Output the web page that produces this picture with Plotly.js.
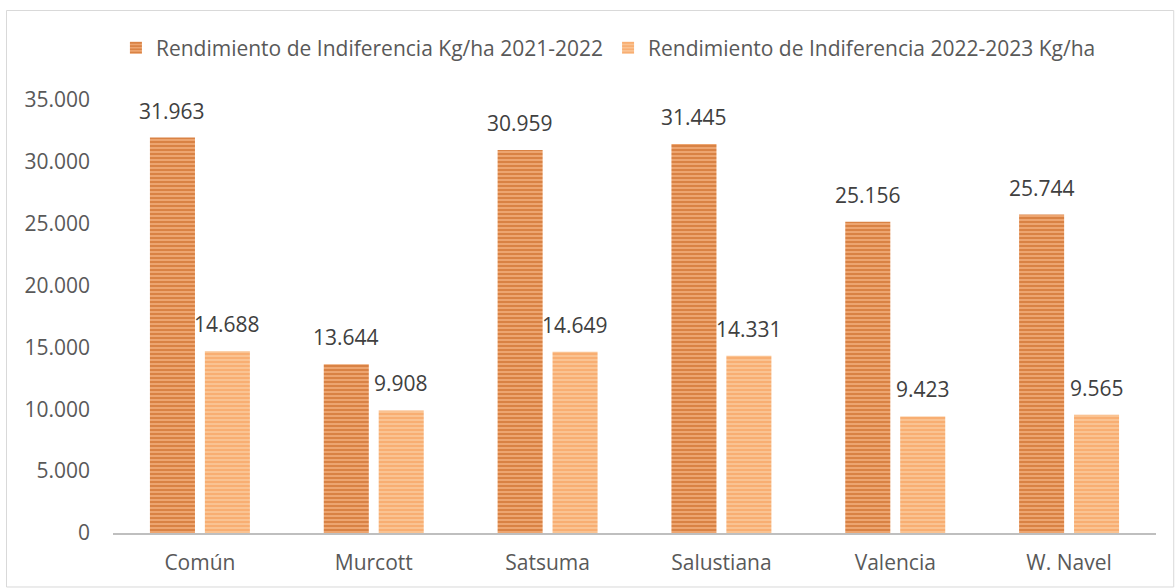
<!DOCTYPE html>
<html>
<head>
<meta charset="utf-8">
<script src="https://cdn.plot.ly/plotly-3.0.1.min.js"></script>
<style>
html,body{margin:0;padding:0;background:#fff;}
#chart{width:1175px;height:588px;}
</style>
</head>
<body>
<div id="chart"></div>
<script>
const categories = ["Común", "Murcott", "Satsuma", "Salustiana", "Valencia", "W. Navel"];
const series1Name = "Rendimiento de Indiferencia Kg/ha 2021-2022";
const series2Name = "Rendimiento de Indiferencia 2022-2023 Kg/ha";
const series1 = [31963, 13644, 30959, 31445, 25156, 25744];
const series2 = [14688, 9908, 14649, 14331, 9423, 9565];
const yTicks = [0, 5000, 10000, 15000, 20000, 25000, 30000, 35000];

const font = "'Open Sans', 'Liberation Sans', sans-serif";
const FS = 21;

function fmt(v) {
  return String(v).replace(/\B(?=(\d{3})+(?!\d))/g, ".");
}

const traces = [
  {
    type: "bar", name: series1Name, x: categories, y: series1,
    marker: {color: "#f2ae7a", line: {width: 0},
      pattern: {shape: "-", fgcolor: "#c0560e", bgcolor: "#f2ae7a", size: 4, solidity: 0.6, fillmode: "overlay"}},
    textposition: "none",
    hoverinfo: "skip"
  },
  {
    type: "bar", name: series2Name, x: categories, y: series2,
    marker: {color: "#fbc89a", line: {width: 0},
      pattern: {shape: "-", fgcolor: "#f5944a", bgcolor: "#fbc89a", size: 4, solidity: 0.6, fillmode: "overlay"}},
    textposition: "none",
    hoverinfo: "skip"
  }
];

const annotations = [];
[series1, series2].forEach((s, k) => {
  s.forEach((v, i) => {
    annotations.push({
      x: categories[i], y: v, xref: "x", yref: "y",
      text: fmt(v), showarrow: false,
      xshift: k === 0 ? -27.5 : 27.5, yshift: 11, yanchor: "bottom",
      font: {family: font, size: FS, color: "#404040"}
    });
  });
});

const layout = {
  width: 1175, height: 588,
  margin: {l: 113, r: 19, t: 100, b: 55},
  paper_bgcolor: "#ffffff", plot_bgcolor: "#ffffff",
  barmode: "group", bargap: 0.368, bargroupgap: 0.18,
  font: {family: font, size: FS, color: "#595959"},
  showlegend: true,
  legend: {orientation: "h", x: 0.475, xanchor: "center", y: 1.12, yanchor: "middle",
    font: {family: font, size: FS, color: "#595959"}, itemwidth: 30, traceorder: "normal"},
  xaxis: {showline: true, linecolor: "#bfbfbf", linewidth: 2, ticks: "", showgrid: false,
    ticklabelstandoff: 10,
    tickfont: {family: font, size: FS, color: "#595959"}, fixedrange: true},
  yaxis: {range: [0, 35000], tickvals: yTicks, ticktext: yTicks.map(fmt), showgrid: false, zeroline: false,
    showline: false, ticks: "", ticklabelstandoff: 22,
    tickfont: {family: font, size: FS, color: "#595959"}, fixedrange: true},
  annotations: annotations,
  shapes: [
    {type: "rect", xref: "paper", yref: "paper", x0: -0.1021, x1: 1.017, y0: -0.1247, y1: 1.2067,
     line: {color: "#d9d9d9", width: 1}, fillcolor: "rgba(0,0,0,0)", layer: "below"}
  ]
};

Plotly.newPlot("chart", traces, layout, {displayModeBar: false, staticPlot: true});
</script>
</body>
</html>
